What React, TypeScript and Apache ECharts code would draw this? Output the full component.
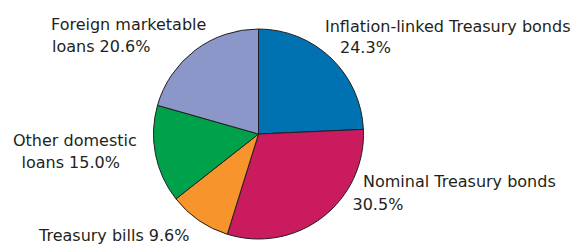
import React, { useEffect, useRef } from "react";
import * as echarts from "echarts";

const categories = [
  "Inflation-linked Treasury bonds",
  "Nominal Treasury bonds",
  "Treasury bills",
  "Other domestic loans",
  "Foreign marketable loans",
];
const values = [24.3, 30.5, 9.6, 15.0, 20.6];
const colors = ["#0071b1", "#c91b5d", "#f7942b", "#00a14b", "#8a97c8"];
// label lines: [first line, second line] built from category and value
const labelFirstLines = [
  "Inflation-linked Treasury bonds",
  "Nominal Treasury bonds",
  "Treasury bills",
  "Other domestic",
  "Foreign marketable",
];
const labelSecondPrefix = ["", "", "", "loans ", "loans "];
// label anchor positions (x of line1, baseline of line1, x of line2, baseline of line2)
const labelPos = [
  [325, 31.7, 340, 53.3],
  [363, 187.3, 352.5, 210],
  [39, 241, 0, 0],
  [13, 145.7, 21.5, 168.3],
  [51, 29.5, 52, 52],
];

const FONT = "'DejaVu Sans', sans-serif";
const FONT_SIZE = 16;
const TEXT_COLOR = "#231f20";

export default function App() {
  const ref = useRef<HTMLDivElement>(null);
  useEffect(() => {
    document.body.style.margin = "0";
    if (!ref.current) return;
    const chart = echarts.init(ref.current, null, { renderer: "svg" });
    const graphics: any[] = [];
    const mk = (text: string, x: number, baseline: number) => ({
      type: "text",
      x,
      y: baseline - 5.5,
      style: {
        text,
        fontFamily: FONT,
        fontSize: FONT_SIZE,
        fill: TEXT_COLOR,
        align: "left",
        verticalAlign: "middle",
      },
    });
    categories.forEach((_, i) => {
      const pct = values[i].toFixed(1) + "%";
      const p = labelPos[i];
      if (i === 2) {
        graphics.push(mk(labelFirstLines[i] + " " + pct, p[0], p[1]));
      } else {
        graphics.push(mk(labelFirstLines[i], p[0], p[1]));
        graphics.push(mk(labelSecondPrefix[i] + pct, p[2], p[3]));
      }
    });
    chart.setOption({
      animation: false,
      backgroundColor: "#ffffff",
      series: [
        {
          type: "pie",
          center: [258.5, 134],
          radius: 105,
          startAngle: 90,
          clockwise: true,
          label: { show: false },
          labelLine: { show: false },
          emphasis: { disabled: true },
          itemStyle: { borderColor: "#231f20", borderWidth: 1 },
          data: categories.map((c, i) => ({
            name: c,
            value: values[i],
            itemStyle: { color: colors[i] },
          })),
        },
      ],
      graphic: graphics,
    });
    return () => chart.dispose();
  }, []);
  return (
    <div
      ref={ref}
      style={{ position: "fixed", left: 0, top: 0, width: 575, height: 244 }}
    />
  );
}
